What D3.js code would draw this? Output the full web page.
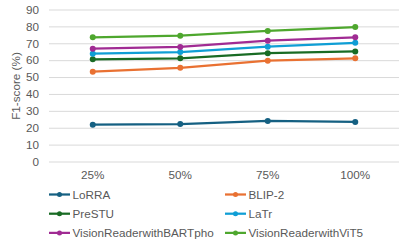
<!DOCTYPE html>
<html><head><meta charset="utf-8">
<script src="https://cdn.jsdelivr.net/npm/d3@7"></script>
<style>body{margin:0;background:#fff}svg{display:block}text{font-family:"Liberation Sans",Arial,sans-serif;fill:#595959}</style>
</head><body><svg id="c" width="407" height="247"></svg>
<script>
const categories = ["25%", "50%", "75%", "100%"];
const seriesNames = ["LoRRA", "BLIP-2", "PreSTU", "LaTr", "VisionReaderwithBARTpho", "VisionReaderwithViT5"];
const LoRRA = [21.8, 22.2, 24.0, 23.4];
const BLIP2 = [53.2, 55.5, 59.7, 61.1];
const PreSTU = [60.5, 61.1, 64.1, 65.2];
const LaTr = [63.8, 64.8, 68.0, 70.3];
const BARTpho = [66.8, 67.8, 71.5, 73.5];
const ViT5 = [73.5, 74.5, 77.3, 79.6];
const yTicks = [0, 10, 20, 30, 40, 50, 60, 70, 80, 90];
const colors = ["#156082", "#E97132", "#196B24", "#0F9ED5", "#A02B93", "#4EA72E"];
const seriesValues = [LoRRA, BLIP2, PreSTU, LaTr, BARTpho, ViT5];

const FS = 11.7;
const svg = d3.select("#c");
const x = d3.scaleBand().domain(categories).range([49, 399]);
const y = d3.scaleLinear().domain([0, 90]).range([161.5, 9.5]);

// gridlines
const yAxis = d3.axisLeft(y).tickValues(yTicks).tickSize(-(399 - 49)).tickPadding(10);
const gy = svg.append("g").attr("transform", "translate(49,0)").call(yAxis);
gy.select(".domain").remove();
gy.selectAll(".tick line").attr("stroke", "#d9d9d9").attr("stroke-width", 1);
gy.selectAll(".tick text").attr("font-size", FS).attr("fill", "#595959").style("font-family", '"Liberation Sans",Arial,sans-serif');

const xAxis = d3.axisBottom(x).tickSize(0).tickPadding(9);
const gx = svg.append("g").attr("transform", "translate(0,161.5)").call(xAxis);
gx.select(".domain").remove();
gx.selectAll(".tick text").attr("font-size", FS).attr("fill", "#595959").style("font-family", '"Liberation Sans",Arial,sans-serif');

svg.append("text").attr("transform", "translate(20,86) rotate(-90)").attr("text-anchor", "middle")
  .attr("font-size", FS).text("F1-score (%)");

const line = d3.line().x((d, i) => x(categories[i]) + x.bandwidth() / 2).y(d => y(d));
seriesValues.forEach((vals, s) => {
  svg.append("path").datum(vals).attr("d", line).attr("fill", "none")
    .attr("stroke", colors[s]).attr("stroke-width", 2.25).attr("stroke-linejoin", "round");
  svg.selectAll(null).data(vals).enter().append("circle")
    .attr("cx", (d, i) => x(categories[i]) + x.bandwidth() / 2).attr("cy", d => y(d))
    .attr("r", 3).attr("fill", colors[s]);
});

// legend
const lg = svg.append("g");
seriesNames.forEach((name, s) => {
  const col = s % 2, row = Math.floor(s / 2);
  const lx = col === 0 ? 49 : 225, ly = 194.5 + row * 19.2;
  lg.append("line").attr("x1", lx).attr("x2", lx + 21).attr("y1", ly).attr("y2", ly)
    .attr("stroke", colors[s]).attr("stroke-width", 2.25);
  lg.append("circle").attr("cx", lx + 10.5).attr("cy", ly).attr("r", 2.5).attr("fill", colors[s]);
  lg.append("text").attr("x", lx + 23.5).attr("y", ly).attr("dy", "0.35em").attr("font-size", FS).text(name);
});
</script></body></html>
